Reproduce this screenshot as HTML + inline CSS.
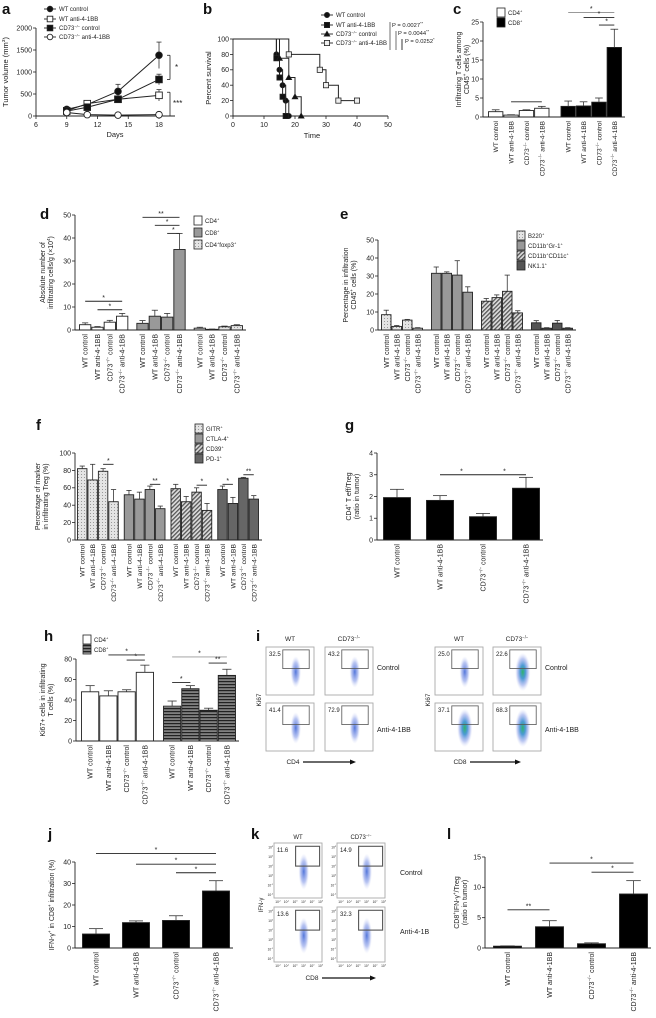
<!DOCTYPE html>
<html><head><meta charset="utf-8"><title>CD73 anti-4-1BB figure</title>
<style>
html,body{margin:0;padding:0;background:#fff;}
svg{display:block;font-family:"Liberation Sans",Arial,sans-serif;}
</style></head>
<body>
<svg id="fig" xmlns="http://www.w3.org/2000/svg" width="656" height="1018" viewBox="0 0 656 1018">
<defs>
<pattern id="pDots" width="3" height="3" patternUnits="userSpaceOnUse"><rect width="3" height="3" fill="#e4e4e4"/><rect x="0" y="0" width="1" height="1" fill="#999"/></pattern>
<pattern id="pHatch" width="3" height="3" patternUnits="userSpaceOnUse" patternTransform="rotate(45)"><rect width="3" height="3" fill="#ddd"/><rect width="1.3" height="3" fill="#555"/></pattern>
<pattern id="pStripe" width="4" height="3" patternUnits="userSpaceOnUse"><rect width="4" height="3" fill="#222"/><rect y="1.6" width="4" height="0.9" fill="#ddd"/></pattern>
<radialGradient id="gBlue"><stop offset="0" stop-color="#4a6fd8" stop-opacity="0.95"/><stop offset="0.6" stop-color="#7f95e6" stop-opacity="0.55"/><stop offset="1" stop-color="#c8d0f5" stop-opacity="0"/></radialGradient>
<radialGradient id="gGreen"><stop offset="0" stop-color="#2fb36a"/><stop offset="0.35" stop-color="#3a8fd0" stop-opacity="0.9"/><stop offset="0.7" stop-color="#7f95e6" stop-opacity="0.5"/><stop offset="1" stop-color="#c8d0f5" stop-opacity="0"/></radialGradient>
</defs>
</svg>
<script>
// ---------- DATA ----------
// panel a
const aDays=[9,11,14,18];
const aWTc=[150,260,560,1380], aWTcErr=[30,40,160,300];
const aWTa=[120,280,380,470], aWTaErr=[20,30,40,130];
const aKOc=[110,200,380,830], aKOcErr=[20,30,50,120];
const aKOa=[80,30,20,30], aKOaErr=[10,8,5,8];
const aXTicks=[6,9,12,15,18];
const aYTicks=[0,500,1000,1500,2000];
// panel b
const bT1=[0,14,15,16,17,18], bP1=[100,80,60,40,20,0];
const bT2=[0,14,15,16,17], bP2=[100,75,50,25,0];
const bT3=[0,15,18,20,22], bP3=[100,75,50,25,0];
const bT4=[0,18,28,30,34,40], bP4=[100,80,60,40,20,20];
const bXTicks=[0,10,20,30,40,50];
const bYTicks=[0,20,40,60,80,100];
// categories
const cats=["WT control","WT anti-4-1BB","CD73^{−/−} control","CD73^{−/−} anti-4-1BB"];
// panel c
const cCD4=[1.4,0.5,1.7,2.3], cCD4Err=[0.5,0.1,0.2,0.5];
const cCD8=[2.8,2.9,3.9,18.3], cCD8Err=[1.4,1.1,1.1,4.8];
// panel d
const dCD4=[2.3,1.2,3.4,6.0], dCD4Err=[0.8,0.3,0.8,1.2];
const dCD8=[2.9,6.0,5.6,35], dCD8Err=[1.2,2.6,1.6,7];
const dFox=[0.8,0.3,1.4,1.9], dFoxErr=[0.4,0.1,0.3,0.4];
// panel e
const eB220=[8.5,2,5.5,1], eB220Err=[2.5,0.5,0.4,0.3];
const eGr1=[31.5,31.5,30.5,21], eGr1Err=[3.5,0.8,8,3];
const eCD11c=[16,18,21.5,9.5], eCD11cErr=[1.5,1.5,9,1.2];
const eNK=[4,1,3.8,1], eNKErr=[1.2,0.3,1.5,0.3];
// panel f
const fGITR=[82,69,79,44], fGITRErr=[3,18,3,14];
const fCTLA=[52,47,58,36], fCTLAErr=[5,8,4,3];
const fCD39=[59,44,55,34], fCD39Err=[5,6,5,8];
const fPD1=[58,42,71,47], fPD1Err=[4,7,1,4];
// panel g
const gVals=[1.95,1.82,1.07,2.38], gErr=[0.38,0.22,0.15,0.5];
// panel h
const hCD4=[48,44,48,67], hCD4Err=[6,5,2,7];
const hCD8=[34,51,30,64], hCD8Err=[5,3,2,6];
// panel j
const jVals=[6.5,11.8,12.8,26.5], jErr=[2.5,0.8,2.2,4.8];
// panel l
const lVals=[0.3,3.5,0.7,8.9], lErr=[0.05,1.0,0.15,2.2];
// flow numbers
const iCD4Nums=["32.5","43.2","41.4","72.9"];
const iCD8Nums=["25.0","22.6","37.1","68.3"];
const kNums=["11.6","14.9","13.6","32.3"];

// ---------- HELPERS ----------
const NS='http://www.w3.org/2000/svg';
const svg=document.getElementById('fig');
function mk(t,at,p){const e=document.createElementNS(NS,t);for(const k in at)e.setAttribute(k,at[k]);(p||svg).appendChild(e);return e;}
function tag(el,name){


}
function txt(x,y,s,o,name){
  o=o||{};
  const e=mk('text',{x:x,y:y,'font-size':o.size||7,'text-anchor':o.anchor||'start',fill:o.fill||'#222'});
  if(o.weight)e.setAttribute('font-weight',o.weight);
  if(o.style)e.setAttribute('font-style',o.style);
  if(o.rot!==undefined)e.setAttribute('transform','rotate('+o.rot+' '+x+' '+y+')');
  const parts=s.split(/\^\{([^}]*)\}/);
  const fs=o.size||7;
  parts.forEach((p,i)=>{
    if(!p)return;
    const ts=mk('tspan',{},e);
    if(i%2===1){ts.setAttribute('font-size',fs*0.65);ts.setAttribute('dy',-fs*0.4);}
    else if(i>0){ts.setAttribute('dy',fs*0.4);}
    ts.textContent=p;
  });
  tag(e,name||'label');
  return e;
}
function line(x1,y1,x2,y2,st,w,name){const e=mk('line',{x1:x1,y1:y1,x2:x2,y2:y2,stroke:st||'#222','stroke-width':w||0.8});tag(e,name||'line');return e;}
function letter(x,y,s){txt(x,y,s,{size:15,weight:'bold',fill:'#111'},'panel-label-'+s);}

// generic bar chart
function barChart(c){
  const g=mk('g',{});
  tag(g,c.name);
  const ys=v=>c.y0-(v/c.max)*(c.y0-c.yT);
  const nG=c.series.length>1?c.series.length:c.series[0].length;
  const k=c.series.length>1?c.series[0].length:1;
  const w=(c.be-c.bs-(nG-1)*c.gap)/(nG*k);
  const bx=i=>c.bs+Math.floor(i/k)*(k*w+c.gap)+(i%k)*w;
  line(c.ax,c.y0,c.ax,c.yT,'#222',0.9,c.name+'-y-axis');
  line(c.ax,c.y0,c.be+3,c.y0,'#222',0.9,c.name+'-x-axis');
  for(let v=0;v<=c.max+1e-9;v+=c.step){
    const y=ys(v);
    line(c.ax-3,y,c.ax,y,'#222',0.8,c.name+'-y-tick');
    txt(c.ax-4,y+2.4,String(Math.round(v*10)/10),{size:7,anchor:'end'},c.name+'-y-tick-label');
  }
  let idx=0;
  c.series.forEach((vals,s)=>{
    const errs=c.errs[s];
    vals.forEach((v,j)=>{
      const x=bx(idx);const y=ys(v);
      const fill=c.fills[c.series.length>1?s:0];
      const r=mk('rect',{x:x+0.5,y:y,width:Math.max(w-1,1),height:c.y0-y,fill:fill,stroke:'#222','stroke-width':0.9},g);
      tag(r,c.name+'-bar-'+(idx+1));
      const cx=x+w/2, ye=ys(v+errs[j]);
      line(cx,y,cx,ye,'#333',0.8,c.name+'-error-bar');
      line(cx-w*0.25,ye,cx+w*0.25,ye,'#333',0.8,c.name+'-error-cap');
      const ly=c.y0+4;
      txt(cx+2.5,ly,cats[j],{size:c.lsize||7,anchor:'end',rot:-90},c.name+'-category-label');
      idx++;
    });
  });
  (c.brackets||[]).forEach(b=>{
    const x1=bx(b[0])+w/2,x2=bx(b[1])+w/2,y=ys(b[2]);
    line(x1,y,x2,y,b[4]||'#222',0.9,c.name+'-significance-line');
    if(b[3])txt((x1+x2)/2,y-1.5,b[3],{size:7,anchor:'middle'},c.name+'-significance-star');
  });
  c.titles.forEach((t,i)=>txt(c.tx+i*8,(c.y0+c.yT)/2,t,{size:7,anchor:'middle',rot:-90},c.name+'-y-axis-title'));
}
function legend(x,y0,dy,items,name){
  items.forEach((it,i)=>{
    const y=y0+i*dy;
    const r=mk('rect',{x:x,y:y-7,width:8,height:9,fill:it[0],stroke:'#222','stroke-width':0.8});
    tag(r,name+'-swatch');
    txt(x+11,y,it[1],{size:6},name+'-entry');
  });
}

// ---------- PANEL A ----------
letter(2,14,'a');
(function(){
  const xs=d=>36+(d-6)*10.25, ys=v=>116-v*0.044;
  line(36,116,36,28,'#222',0.9,'a-y-axis');line(36,116,175,116,'#222',0.9,'a-x-axis');
  aYTicks.forEach(v=>{line(33,ys(v),36,ys(v),'#222',0.8,'a-y-tick');txt(32,ys(v)+2.4,String(v),{size:7,anchor:'end'},'a-y-tick-label');});
  aXTicks.forEach(d=>{line(xs(d),116,xs(d),119,'#222',0.8,'a-x-tick');txt(xs(d),127,String(d),{size:7,anchor:'middle'},'a-x-tick-label');});
  txt(115,137,'Days',{size:7.5,anchor:'middle'},'a-x-axis-title');
  txt(8,72,'Tumor volume (mm^{3})',{size:7.5,anchor:'middle',rot:-90},'a-y-axis-title');
  const series=[[aWTc,aWTcErr,'circle','#111'],[aWTa,aWTaErr,'square','#fff'],[aKOc,aKOcErr,'square','#111'],[aKOa,aKOaErr,'circle','#fff']];
  const names=['wt-control','wt-anti-4-1bb','cd73-control','cd73-anti-4-1bb'];
  series.forEach((s,si)=>{
    const pts=aDays.map((d,i)=>[xs(d),ys(s[0][i])]);
    const pl=mk('polyline',{points:pts.map(p=>p.join(',')).join(' '),fill:'none',stroke:'#222','stroke-width':1});
    tag(pl,'a-line-'+names[si]);
    aDays.forEach((d,i)=>{
      const x=xs(d),y=ys(s[0][i]),ye=ys(s[0][i]+s[1][i]),yl=ys(Math.max(0,s[0][i]-s[1][i]));
      line(x,yl,x,ye,'#333',0.8,'a-error-bar');line(x-2.5,ye,x+2.5,ye,'#333',0.8,'a-error-cap');
      let m;
      if(s[2]==='circle')m=mk('circle',{cx:x,cy:y,r:3.3,fill:s[3],stroke:'#222','stroke-width':0.9});
      else m=mk('rect',{x:x-3.3,y:y-3.3,width:6.6,height:6.6,fill:s[3],stroke:'#222','stroke-width':0.9});
      tag(m,'a-point-'+names[si]);
    });
  });
  const labs=['WT control','WT anti-4-1BB','CD73^{−/−} control','CD73^{−/−} anti-4-1BB'];
  const lys=[11,21,30,39];
  series.forEach((s,i)=>{
    line(44,lys[i]-2,56,lys[i]-2,'#222',0.9,'a-legend-line');
    let m;
    if(s[2]==='circle')m=mk('circle',{cx:50,cy:lys[i]-2,r:2.8,fill:s[3],stroke:'#222','stroke-width':0.9});
    else m=mk('rect',{x:47.2,y:lys[i]-4.8,width:5.6,height:5.6,fill:s[3],stroke:'#222','stroke-width':0.9});
    tag(m,'a-legend-marker');
    txt(59,lys[i],labs[i],{size:6},'a-legend-entry');
  });
  line(170,ys(1380),170,ys(830),'#222',0.8,'a-bracket');line(167,ys(1380),170,ys(1380),'#222',0.8,'a-bracket');line(167,ys(830),170,ys(830),'#222',0.8,'a-bracket');
  txt(175,70,'*',{size:8},'a-significance');
  line(170,ys(540),170,ys(0),'#222',0.8,'a-bracket');line(167,ys(540),170,ys(540),'#222',0.8,'a-bracket');line(167,ys(0),170,ys(0),'#222',0.8,'a-bracket');
  txt(173,106,'***',{size:8},'a-significance');
})();

// ---------- PANEL B ----------
letter(203,14,'b');
(function(){
  const xs=t=>233+t*3.1, ys=p=>116-p*0.77;
  line(233,116,233,39,'#222',0.9,'b-y-axis');line(233,116,388,116,'#222',0.9,'b-x-axis');
  bYTicks.forEach(v=>{line(230,ys(v),233,ys(v),'#222',0.8,'b-y-tick');txt(229,ys(v)+2.4,String(v),{size:7,anchor:'end'},'b-y-tick-label');});
  bXTicks.forEach(t=>{line(xs(t),116,xs(t),119,'#222',0.8,'b-x-tick');txt(xs(t),127,String(t),{size:7,anchor:'middle'},'b-x-tick-label');});
  txt(312,138,'Time',{size:7.5,anchor:'middle'},'b-x-axis-title');
  txt(211,78,'Percent survival',{size:7.5,anchor:'middle',rot:-90},'b-y-axis-title');
  const series=[[bT1,bP1,'circle','#111'],[bT2,bP2,'square','#111'],[bT3,bP3,'tri','#111'],[bT4,bP4,'square','#eee']];
  const names=['wt-control','wt-anti-4-1bb','cd73-control','cd73-anti-4-1bb'];
  function marker(x,y,type,fill,n){
    let m;
    if(type==='circle')m=mk('circle',{cx:x,cy:y,r:2.6,fill:fill,stroke:'#222','stroke-width':0.8});
    else if(type==='square')m=mk('rect',{x:x-2.6,y:y-2.6,width:5.2,height:5.2,fill:fill,stroke:'#222','stroke-width':0.8});
    else m=mk('polygon',{points:(x)+','+(y-3)+' '+(x+3)+','+(y+2.2)+' '+(x-3)+','+(y+2.2),fill:fill,stroke:'#222','stroke-width':0.6});
    tag(m,n);
  }
  series.forEach((s,si)=>{
    const T=s[0],P=s[1];let pts=[];
    for(let i=0;i<T.length;i++){
      if(i>0)pts.push([xs(T[i]),ys(P[i-1])]);
      pts.push([xs(T[i]),ys(P[i])]);
    }
    const pl=mk('polyline',{points:pts.map(p=>p.join(',')).join(' '),fill:'none',stroke:'#222','stroke-width':1});
    tag(pl,'b-curve-'+names[si]);
    for(let i=1;i<T.length;i++)marker(xs(T[i]),ys(P[i]),s[2],s[3],'b-point-'+names[si]);
  });
  const labs=['WT control','WT anti-4-1BB','CD73^{−/−} control','CD73^{−/−} anti-4-1BB'];
  const lys=[17,27,36,45];
  series.forEach((s,i)=>{
    line(321,lys[i]-2,333,lys[i]-2,'#222',0.9,'b-legend-line');
    marker(327,lys[i]-2,s[2],s[3],'b-legend-marker');
    txt(336,lys[i],labs[i],{size:6},'b-legend-entry');
  });
  line(390,22,390,50,'#888',1.2,'b-p-bracket');line(396,31,396,50,'#888',1.2,'b-p-bracket');line(402,39,402,50,'#222',0.9,'b-p-bracket');
  txt(392,27,'P = 0.0027^{**}',{size:5.8},'b-p-value');
  txt(398,35,'P = 0.0044^{**}',{size:5.8},'b-p-value');
  txt(405,43,'P = 0.0252^{*}',{size:5.8},'b-p-value');
})();

// ---------- PANEL C ----------
letter(453,14,'c');
barChart({name:'c',ax:483,y0:117,yT:22,max:25,step:5,bs:488,be:622,gap:11,
  series:[cCD4,cCD8],errs:[cCD4Err,cCD8Err],fills:['#fff','#000'],lsize:6.5,
  brackets:[[1,3,4.0,''],[4,7,27.5,'*','#999'],[5,7,26.2,'*'],[6,7,24.2,'*']],
  titles:['Infiltrating T cells among','CD45^{+} cells (%)'],tx:461});
legend(497,15,10,[['#fff','CD4^{+}'],['#000','CD8^{+}']],'c-legend');

// ---------- PANEL D ----------
letter(40,219,'d');
barChart({name:'d',ax:75,y0:330,yT:215,max:50,step:10,bs:79,be:243,gap:8,
  series:[dCD4,dCD8,dFox],errs:[dCD4Err,dCD8Err,dFoxErr],fills:['#fff','#999','url(#pDots)'],
  brackets:[[0,3,12.5,'*'],[1,3,8.8,'*'],[4,7,49,'**'],[5,7,45.5,'*'],[6,7,42,'*']],
  titles:['Absolute number of','infiltrating cells/g (×10^{4})'],tx:45});
legend(194,223,12,[['#fff','CD4^{+}'],['#999','CD8^{+}'],['url(#pDots)','CD4^{+}foxp3^{+}']],'d-legend');

// ---------- PANEL E ----------
letter(340,219,'e');
barChart({name:'e',ax:378,y0:330,yT:240,max:50,step:10,bs:381,be:573,gap:8,
  series:[eB220,eGr1,eCD11c,eNK],errs:[eB220Err,eGr1Err,eCD11cErr,eNKErr],fills:['url(#pDots)','#999','url(#pHatch)','#555'],
  titles:['Percentage in infiltration','CD45^{+} cells (%)'],tx:348});
legend(517,238,10,[['url(#pDots)','B220^{+}'],['#999','CD11b^{+}Gr-1^{+}'],['url(#pHatch)','CD11b^{+}CD11c^{+}'],['#555','NK1.1^{+}']],'e-legend');

// ---------- PANEL F ----------
letter(36,430,'f');
barChart({name:'f',ax:75,y0:540,yT:453,max:100,step:20,bs:77,be:259,gap:5,
  series:[fGITR,fCTLA,fCD39,fPD1],errs:[fGITRErr,fCTLAErr,fCD39Err,fPD1Err],fills:['url(#pDots)','#999','url(#pHatch)','#666'],lsize:6.8,
  brackets:[[2,3,87,'*'],[6,7,64,'**'],[10,11,63,'*'],[12,13,64,'*'],[14,15,75,'**']],
  titles:['Percentage of marker','in infiltrating Treg (%)'],tx:40});
legend(195,431,10,[['url(#pDots)','GITR^{+}'],['#999','CTLA-4^{+}'],['url(#pHatch)','CD39^{+}'],['#666','PD-1^{+}']],'f-legend');

// ---------- PANEL G ----------
letter(345,430,'g');
barChart({name:'g',ax:377,y0:540,yT:453,max:4,step:1,bs:383,be:540,gap:15,
  series:[gVals],errs:[gErr],fills:['#000'],
  brackets:[[1,2,3.0,'*'],[2,3,3.0,'*']],
  titles:['CD4^{+} T eff/Treg','(ratio in tumor)'],tx:351});

// ---------- PANEL H ----------
letter(44,641,'h');
barChart({name:'h',ax:76,y0:741,yT:659,max:80,step:20,bs:81,be:236,gap:9,
  series:[hCD4,hCD8],errs:[hCD4Err,hCD8Err],fills:['#fff','url(#pStripe)'],
  brackets:[[1,3,84,'*'],[2,3,79,'*'],[4,5,57,'*'],[4,7,82,'*','#999'],[6,7,76,'**']],
  titles:['Ki67+ cells in infiltrating','T cells (%)'],tx:45});
legend(83,642,10,[['#fff','CD4^{+}'],['url(#pStripe)','CD8^{+}']],'h-legend');

// ---------- FLOW PLOTS ----------
function flowBox(x,y,w,h,num,green,gate,name){
  const r=mk('rect',{x:x,y:y,width:w,height:h,fill:'#fff',stroke:'#aaa','stroke-width':0.9});
  tag(r,name+'-plot-frame');
  const e=mk('ellipse',{cx:x+w*0.62,cy:y+h*0.52,rx:w*(green?0.16:0.11),ry:h*(green?0.4:0.33),fill:green?'url(#gGreen)':'url(#gBlue)'});
  tag(e,name+'-cell-population');
  const gr=mk('rect',{x:x+gate[0]*w,y:y+gate[1]*h,width:(gate[2]-gate[0])*w,height:(gate[3]-gate[1])*h,fill:'none',stroke:'#555','stroke-width':gate[4]||0.8});
  tag(gr,name+'-gate');
  txt(x+3,y+9,num,{size:6},name+'-gate-percent');
}
letter(256,641,'i');
(function(){
  const gx=[[266,325],[435,493]];const gy=[647,703];
  const nums=[iCD4Nums,iCD8Nums];
  gx.forEach((cols,gi)=>{
    cols.forEach((x,ci)=>{
      txt(x+24,641,ci===0?'WT':'CD73^{−/−}',{size:6.5,anchor:'middle'},'i-genotype-header');
      gy.forEach((y,ri)=>flowBox(x,y,48,48,nums[gi][ri*2+ci],gi===1&&(ci===1||ri===1),[0.35,0.06,0.9,0.45],'i'));
    });
    txt(cols[1]+52,670,'Control',{size:7},'i-row-label');
    txt(cols[1]+52,732,'Anti-4-1BB',{size:7},'i-row-label');
    txt(cols[0]-5,700,'Ki67',{size:6.5,anchor:'middle',rot:-90},'i-y-axis-title');
  });
  txt(293,764,'CD4',{size:6.5,anchor:'middle'},'i-x-axis-title');
  line(303,762,350,762,'#111',1.2,'i-arrow');mk('polygon',{points:'350,759.5 356,762 350,764.5',fill:'#111'});
  txt(460,764,'CD8',{size:6.5,anchor:'middle'},'i-x-axis-title');
  line(470,762,515,762,'#111',1.2,'i-arrow');mk('polygon',{points:'515,759.5 521,762 515,764.5',fill:'#111'});
})();

// ---------- PANEL J ----------
letter(48,839,'j');
barChart({name:'j',ax:75,y0:948,yT:862,max:40,step:10,bs:82,be:230,gap:12,
  series:[jVals],errs:[jErr],fills:['#000'],
  brackets:[[0,3,44,'*'],[1,3,39,'*'],[2,3,35,'*']],
  titles:['IFN-γ^{+} in CD8^{+} infiltration (%)'],tx:54});

// ---------- PANEL K ----------
letter(251,839,'k');
(function(){
  const xs=[274,337],ys=[843,907];
  xs.forEach((x,ci)=>{
    txt(x+24,839,ci===0?'WT':'CD73^{−/−}',{size:6,anchor:'middle'},'k-genotype-header');
    ys.forEach((y,ri)=>{
      flowBox(x,y,48,55,kNums[ri*2+ci],false,[0.45,0.06,0.95,0.42,1.1],'k');
      ['10^{-2}','10^{-1}','10^{0}','10^{1}','10^{2}','10^{3}'].forEach((t,ti)=>{
        txt(x-1,y+53-ti*9.5,t,{size:3.2,anchor:'end'},'k-y-tick-label');
        txt(x+4+ti*8.5,y+60,t,{size:3.2,anchor:'middle'},'k-x-tick-label');
      });
    });
  });
  txt(400,875,'Control',{size:7},'k-row-label');
  txt(400,934,'Anti-4-1B',{size:7},'k-row-label');
  txt(263,905,'IFN-γ',{size:6,anchor:'middle',rot:-90},'k-y-axis-title');
  txt(312,980,'CD8',{size:6.5,anchor:'middle'},'k-x-axis-title');
  line(322,978,370,978,'#111',1.2,'k-arrow');mk('polygon',{points:'370,975.5 376,978 370,980.5',fill:'#111'});
})();

// ---------- PANEL L ----------
letter(447,839,'l');
barChart({name:'l',ax:485,y0:948,yT:857,max:15,step:5,bs:493,be:648,gap:13,
  series:[lVals],errs:[lErr],fills:['#000'],
  brackets:[[0,1,6.3,'**'],[1,3,14,'*'],[2,3,12.5,'*']],
  titles:['CD8^{+}IFN-γ^{+}/Treg','(ratio in tumor)'],tx:459});
</script>
</body></html>
